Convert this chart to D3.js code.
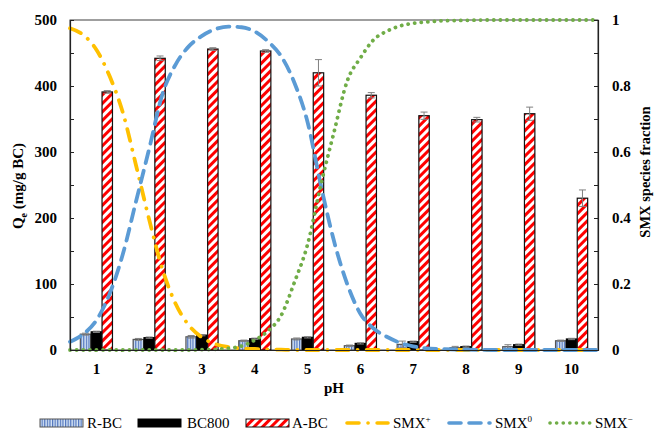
<!DOCTYPE html>
<html>
<head>
<meta charset="utf-8">
<script src="https://d3js.org/d3.v7.min.js"></script>
<style>
  body { margin: 0; background: #fff; }
  text { font-family: "Liberation Serif", "Times New Roman", serif; }
</style>
</head>
<body>
<svg id="chart" width="654" height="433"></svg>
<script>
// bar data (Qe, mg/g BC)
var phLabels = ["1", "2", "3", "4", "5", "6", "7", "8", "9", "10"];
var rbc    = [24, 16, 20, 14, 16.7, 6.5, 8.5, 3.5, 5, 14];
var rbcErr = [1.5, 1.5, 2, 1, 1.5, 1, 5, 2, 3, 1];
var bc800    = [27.5, 18.7, 22.5, 17, 19.2, 10, 12.5, 5, 8, 16.7];
var bc800Err = [1, 1, 1, 1, 1, 1, 1, 1, 1, 1];
var abc    = [391, 442, 456, 453, 420, 386, 355, 349, 358, 230];
var abcErr = [2, 3.5, 2, 2, 20, 4, 5.5, 3.5, 10, 12.5];

// species fraction curves
var curvePH  = [0.5, 0.75, 1, 1.25, 1.5, 1.75, 2, 2.25, 2.5, 2.75, 3, 3.25, 3.5, 3.75, 4, 4.25, 4.5, 4.75, 5, 5.25, 5.5, 5.75, 6, 6.25, 6.5, 6.75, 7, 7.25, 7.5, 8, 8.5, 9, 9.5, 10, 10.5];
var smxPlus  = [0.975, 0.955, 0.91, 0.83, 0.72, 0.56, 0.395, 0.245, 0.14, 0.075, 0.038, 0.018, 0.009, 0.005, 0.003, 0.002, 0.001, 0, 0, 0, 0, 0, 0, 0, 0, 0, 0, 0, 0, 0, 0, 0, 0, 0, 0];
var smxZero  = [0.025, 0.048, 0.09, 0.17, 0.29, 0.45, 0.61, 0.775, 0.865, 0.92, 0.952, 0.972, 0.98, 0.978, 0.965, 0.935, 0.89, 0.81, 0.69, 0.5, 0.33, 0.2, 0.11, 0.065, 0.04, 0.022, 0.011, 0.005, 0.003, 0.001, 0, 0, 0, 0, 0];
var smxMinus = [0, 0, 0, 0, 0, 0, 0, 0, 0, 0, 0.001, 0.002, 0.005, 0.012, 0.03, 0.058, 0.105, 0.205, 0.32, 0.5, 0.66, 0.815, 0.885, 0.94, 0.966, 0.982, 0.99, 0.994, 0.997, 0.999, 1, 1, 1, 1, 1];

var leftTicks = [0, 100, 200, 300, 400, 500];
var rightTicks = [0, 0.2, 0.4, 0.6, 0.8, 1];

var svg = d3.select("#chart");
var L = 70, R = 598, T = 20, B = 350;

var x = d3.scaleBand().domain(phLabels).range([L, R]).paddingInner(0.375).paddingOuter(0.1875);
var xSub = d3.scaleBand().domain(["rbc", "bc800", "abc"]).range([0, x.bandwidth()]).padding(0.04);
var y = d3.scaleLinear().domain([0, 500]).range([B, T]);
var y2 = d3.scaleLinear().domain([0, 1]).range([B, T]);
var xc = d3.scaleLinear().domain([0.5, 10.5]).range([L, R]);

// patterns
var defs = svg.append("defs");
var pv = defs.append("pattern").attr("id", "vstripe").attr("patternUnits", "userSpaceOnUse")
  .attr("width", 2.6).attr("height", 10);
pv.append("rect").attr("width", 2.6).attr("height", 10).attr("fill", "#d6e4f5");
pv.append("rect").attr("width", 1.2).attr("height", 10).attr("fill", "#4f74bd");

var pd = defs.append("pattern").attr("id", "dstripe").attr("patternUnits", "userSpaceOnUse")
  .attr("width", 6).attr("height", 6).attr("patternTransform", "rotate(45)");
pd.append("rect").attr("width", 6).attr("height", 6).attr("fill", "#fff");
pd.append("rect").attr("width", 3).attr("height", 6).attr("fill", "#ff0000");

// frame
svg.append("rect").attr("x", L).attr("y", T).attr("width", R - L).attr("height", B - T)
  .attr("fill", "none").attr("stroke", "#404040").attr("stroke-width", 1);

var series = [
  {key: "rbc", vals: rbc, err: rbcErr, fill: "url(#vstripe)", stroke: "#555"},
  {key: "bc800", vals: bc800, err: bc800Err, fill: "#000", stroke: "#000"},
  {key: "abc", vals: abc, err: abcErr, fill: "url(#dstripe)", stroke: "#111"}
];

series.forEach(function (s) {
  svg.append("g").selectAll("rect")
    .data(s.vals).enter().append("rect")
    .attr("x", function (d, i) { return x(phLabels[i]) + xSub(s.key); })
    .attr("y", function (d) { return y(d); })
    .attr("width", xSub.bandwidth())
    .attr("height", function (d) { return B - y(d); })
    .attr("fill", s.fill)
    .attr("stroke", s.stroke)
    .attr("stroke-width", 1.2);
});

// error bars
series.forEach(function (s) {
  var g = svg.append("g").attr("stroke", "#808080").attr("stroke-width", 1);
  s.vals.forEach(function (d, i) {
    var cx = x(phLabels[i]) + xSub(s.key) + xSub.bandwidth() / 2;
    var lo = y(d - s.err[i]), hi = y(d + s.err[i]);
    g.append("line").attr("x1", cx).attr("x2", cx).attr("y1", lo).attr("y2", hi);
    g.append("line").attr("x1", cx - 3.5).attr("x2", cx + 3.5).attr("y1", hi).attr("y2", hi);
    g.append("line").attr("x1", cx - 3.5).attr("x2", cx + 3.5).attr("y1", lo).attr("y2", lo);
  });
});

// curves
var curves = [
  {vals: smxPlus, color: "#ffc000", dash: "12,9,0.1,9", cap: "round"},
  {vals: smxZero, color: "#5b9bd5", dash: "12,8", cap: "round"},
  {vals: smxMinus, color: "#70ad47", dash: "0.1,6.5", cap: "round"}
];
var line = d3.line()
  .x(function (d) { return xc(d[0]); })
  .y(function (d) { return y2(d[1]); })
  .curve(d3.curveMonotoneX);
curves.forEach(function (c) {
  svg.append("path")
    .attr("d", line(curvePH.map(function (p, i) { return [p, c.vals[i]]; })))
    .attr("fill", "none")
    .attr("stroke", c.color)
    .attr("stroke-width", 3.8)
    .attr("stroke-dasharray", c.dash)
    .attr("stroke-linecap", c.cap);
});

// axes
var yAxis = d3.axisLeft(y).tickValues(d3.range(0, 501, 50)).tickSize(-4)
  .tickFormat(function (d) { return leftTicks.indexOf(d) >= 0 ? d : ""; }).tickPadding(13);
var gy = svg.append("g").attr("transform", "translate(" + L + ",0)").call(yAxis);

var y2Axis = d3.axisRight(y2).tickValues(d3.range(0, 11).map(function (k) { return k / 10; })).tickSize(-4)
  .tickFormat(function (d) {
    var hit = rightTicks.filter(function (t) { return Math.abs(t - d) < 1e-9; });
    return hit.length ? d3.format("")(hit[0]) : "";
  }).tickPadding(14);
var gy2 = svg.append("g").attr("transform", "translate(" + R + ",0)").call(y2Axis);

var xAxis = d3.axisBottom(x).tickSize(0).tickPadding(13);
var gx = svg.append("g").attr("transform", "translate(0," + B + ")").call(xAxis);

[gy, gy2, gx].forEach(function (g) {
  g.select(".domain").attr("stroke", "#222").attr("stroke-width", 1.2);
  g.selectAll(".tick line").attr("stroke", "#222");
  g.selectAll("text").attr("font-family", "Liberation Serif").attr("font-weight", "bold")
    .attr("font-size", 15).attr("fill", "#000");
});

// axis titles
svg.append("text").attr("x", 334).attr("y", 393).attr("text-anchor", "middle")
  .attr("font-size", 15).attr("font-weight", "bold").text("pH");

var lt = svg.append("text").attr("transform", "translate(23,186) rotate(-90)")
  .attr("text-anchor", "middle").attr("font-size", 15).attr("font-weight", "bold");
lt.append("tspan").text("Q");
lt.append("tspan").attr("font-size", 10).attr("dy", 4).text("e");
lt.append("tspan").attr("dy", -4).text(" (mg/g BC)");

svg.append("text").attr("transform", "translate(650,172) rotate(-90)")
  .attr("text-anchor", "middle").attr("font-size", 14.5).attr("font-weight", "bold")
  .text("SMX species fraction");

// legend
var ly = 423;
var legBars = [
  {x: 40, fill: "url(#vstripe)", stroke: "#555", label: "R-BC", tx: 87},
  {x: 138, fill: "#000", stroke: "#000", label: "BC800", tx: 187},
  {x: 246, fill: "url(#dstripe)", stroke: "#111", label: "A-BC", tx: 292}
];
legBars.forEach(function (b) {
  svg.append("rect").attr("x", b.x).attr("y", ly - 4).attr("width", 43).attr("height", 8)
    .attr("fill", b.fill).attr("stroke", b.stroke).attr("stroke-width", 1);
  svg.append("text").attr("x", b.tx).attr("y", ly + 5).attr("font-size", 15).text(b.label);
});
var legLines = [
  {x: 347, c: curves[0], sup: "+", tx: 393},
  {x: 449, c: curves[1], sup: "0", tx: 495},
  {x: 550, c: curves[2], sup: "\u2212", tx: 595}
];
legLines.forEach(function (l) {
  svg.append("line").attr("x1", l.x).attr("x2", l.x + 41).attr("y1", ly).attr("y2", ly)
    .attr("stroke", l.c.color).attr("stroke-width", 3.6)
    .attr("stroke-dasharray", l.c.dash).attr("stroke-linecap", l.c.cap);
  var t = svg.append("text").attr("x", l.tx).attr("y", ly + 5).attr("font-size", 15);
  t.append("tspan").text("SMX");
  t.append("tspan").attr("font-size", 9).attr("dy", -6).text(l.sup);
});
</script>
</body>
</html>
